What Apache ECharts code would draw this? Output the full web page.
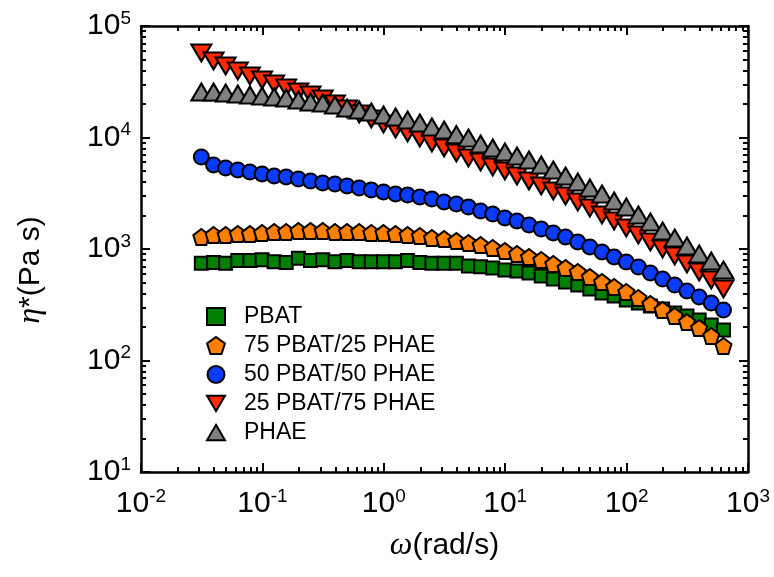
<!DOCTYPE html>
<html>
<head>
<meta charset="utf-8">
<script src="https://cdn.jsdelivr.net/npm/echarts@6/dist/echarts.min.js"></script>
<style>
html, body { margin: 0; padding: 0; background: #fff; }
#chart { width: 774px; height: 577px; }
</style>
</head>
<body>
<div id="chart"></div>
<script>
// Angular frequency of the sweep (rad/s)
const omega = [0.0314, 0.0396, 0.0498, 0.0627, 0.0789, 0.0994, 0.125, 0.157, 0.198, 0.249,
  0.314, 0.396, 0.498, 0.627, 0.789, 0.994, 1.25, 1.57, 1.98, 2.49,
  3.14, 3.96, 4.98, 6.27, 7.89, 9.94, 12.5, 15.7, 19.8, 24.9,
  31.4, 39.6, 49.8, 62.7, 78.9, 99.4, 125, 157, 198, 249,
  314, 396, 498, 628];

// Complex viscosity (Pa s) of each material
const pbat = [745, 755, 745, 790, 790, 800, 770, 755, 825, 790,
  800, 770, 790, 770, 770, 770, 770, 790, 755, 745,
  745, 745, 705, 694, 675, 648, 635, 609, 573, 538,
  506, 475, 438, 403, 379, 349, 328, 308, 290, 267,
  251, 231, 208, 188];
const pbat75 = [1281, 1335, 1335, 1363, 1363, 1392, 1421, 1421, 1450, 1450,
  1450, 1421, 1421, 1421, 1392, 1392, 1363, 1335, 1308, 1255,
  1229, 1180, 1132, 1086, 1021, 960, 902, 848, 797, 734,
  675, 622, 561, 506, 456, 412, 364, 321, 284, 251,
  221, 196, 166, 135];
const pbat50 = [6685, 5666, 5327, 5111, 4905, 4706, 4515, 4423, 4244, 4072,
  3907, 3828, 3673, 3525, 3382, 3245, 3113, 3050, 2927, 2808,
  2640, 2533, 2381, 2191, 2060, 1897, 1783, 1641, 1512, 1392,
  1281, 1156, 1042, 940, 848, 764, 690, 609, 538, 475,
  420, 371, 328, 284];
const pbat25 = [57270, 48550, 43780, 39480, 35610, 32790, 30180, 27790, 25590, 24060,
  22140, 19970, 18010, 16250, 14650, 13220, 11920, 10980, 9900, 8930,
  8050, 7260, 6550, 6030, 5438, 5008, 4515, 4072, 3673, 3313,
  2988, 2640, 2332, 2018, 1783, 1543, 1335, 1156, 1000, 865,
  734, 622, 527, 438];
const phae = [25590, 25590, 25070, 24550, 24060, 23560, 23080, 22610, 21700, 20820,
  20390, 19570, 18390, 17650, 16930, 15910, 15270, 14350, 13490, 12430,
  11680, 10600, 9900, 8745, 8050, 7413, 6826, 6284, 5666, 5111,
  4515, 3990, 3525, 3113, 2695, 2381, 2018, 1747, 1450, 1255,
  1064, 902, 781, 648];

const seriesNames = ['PBAT', '75 PBAT/25 PHAE', '50 PBAT/50 PHAE', '25 PBAT/75 PHAE', 'PHAE'];

// Axis ranges and minor tick positions (2..9 within each decade)
const xRange = [0.01, 1000];
const yRange = [10, 100000];
const minorMultipliers = [2, 3, 4, 5, 6, 7, 8, 9];
const xDecades = [0.01, 0.1, 1, 10, 100];
const yDecades = [10, 100, 1000, 10000];

const FONT = '"Liberation Sans", Arial, Helvetica, sans-serif';
const SERIF = '"Liberation Serif", "Times New Roman", serif';

const minorLog = (decades) => {
  const out = [];
  decades.forEach(d => minorMultipliers.forEach(m => out.push(Math.log10(d * m))));
  return out;
};

const powRich = {
  b: { fontSize: 30, fontFamily: FONT, color: '#000', lineHeight: 34 },
  s: { fontSize: 19, fontFamily: FONT, color: '#000', verticalAlign: 'top', lineHeight: 19 }
};
const powLabel = (v) => '{b|10}{s|' + Math.round(Math.log10(v)) + '}';

const frameLine = { show: true, onZero: false, lineStyle: { color: '#000', width: 2.5 } };

// Frame axes (log scale) carrying the data, labels and decade ticks
function mainLogAxis(range, position, withLabels, margin) {
  return {
    gridIndex: 0,
    type: 'log', logBase: 10, min: range[0], max: range[1], position: position,
    axisLine: frameLine,
    axisTick: { show: true, inside: true, length: 9, lineStyle: { color: '#000', width: 2 } },
    splitLine: { show: false },
    minorTick: { show: false },
    axisLabel: withLabels ? { show: true, margin: margin, formatter: powLabel, rich: powRich } : { show: false }
  };
}
// Overlay axes (in decade units) that only draw the short intermediate ticks
function minorAxis(lo, hi, position, vals) {
  return {
    gridIndex: 1,
    type: 'value', min: lo, max: hi, position: position,
    axisLine: { show: false, onZero: false }, splitLine: { show: false },
    axisTick: { show: true, inside: true, length: 5, customValues: vals,
      lineStyle: { color: '#000', width: 2 } },
    axisLabel: { show: false }
  };
}

const xMain = mainLogAxis(xRange, 'bottom', true, 15);
xMain.name = '{w|ω}{n|(rad/s)}';
xMain.nameLocation = 'middle';
xMain.nameGap = 58;
xMain.nameTextStyle = { rich: {
  w: { fontSize: 32, fontFamily: SERIF, fontStyle: 'italic', color: '#000' },
  n: { fontSize: 30, fontFamily: FONT, color: '#000' } } };

const yMain = mainLogAxis(yRange, 'left', true, 10);
yMain.name = '{e|η}{n|*(Pa s)}';
yMain.nameLocation = 'middle';
yMain.nameGap = 94;
yMain.nameTextStyle = { padding: [0, 42, 0, 0], rich: {
  e: { fontSize: 32, fontFamily: SERIF, fontStyle: 'italic', color: '#000' },
  n: { fontSize: 30, fontFamily: FONT, color: '#000' } } };

const pentagon = 'path://M0,-1 L0.951,-0.309 L0.588,0.809 L-0.588,0.809 L-0.951,-0.309 Z';
const downTriangle = 'path://M0,0 L20,0 L10,17 Z';
const upTriangle = 'path://M10,0 L20,17 L0,17 Z';

const styles = [
  { data: pbat, symbol: 'rect', size: 13, color: '#008000' },
  { data: pbat75, symbol: pentagon, size: 16, color: '#FF8000' },
  { data: pbat50, symbol: 'circle', size: 15, color: '#0A3CFF' },
  { data: pbat25, symbol: downTriangle, size: [20, 17], color: '#FF2A00' },
  { data: phae, symbol: upTriangle, size: [20, 17], color: '#808080' }
];

const series = styles.map((s, k) => ({
  name: seriesNames[k],
  type: 'scatter',
  xAxisIndex: 0, yAxisIndex: 0,
  symbol: s.symbol,
  symbolSize: s.size,
  itemStyle: { color: s.color, borderColor: '#000', borderWidth: 2, opacity: 1 },
  emphasis: { disabled: true },
  data: omega.map((w, i) => [w, s.data[i]])
}));

const plotRect = { left: 141, top: 26, width: 607, height: 446, containLabel: false, outerBoundsMode: 'none' };

const chart = echarts.init(document.getElementById('chart'), null, { renderer: 'canvas' });
chart.setOption({
  animation: false,
  backgroundColor: '#fff',
  grid: [Object.assign({}, plotRect), Object.assign({}, plotRect)],
  xAxis: [
    xMain,
    mainLogAxis(xRange, 'top', false, 0),
    minorAxis(-2, 3, 'bottom', minorLog(xDecades)),
    minorAxis(-2, 3, 'top', minorLog(xDecades))
  ],
  yAxis: [
    yMain,
    mainLogAxis(yRange, 'right', false, 0),
    minorAxis(1, 5, 'left', minorLog(yDecades)),
    minorAxis(1, 5, 'right', minorLog(yDecades))
  ],
  legend: {
    orient: 'vertical', left: 206, top: 305, padding: 0,
    itemWidth: 18, itemHeight: 17, itemGap: 6,
    textStyle: { fontSize: 23, fontFamily: FONT, color: '#000', padding: [0, 0, 0, 14] },
    selectedMode: false,
    data: seriesNames
  },
  series: series
});
</script>
</body>
</html>
